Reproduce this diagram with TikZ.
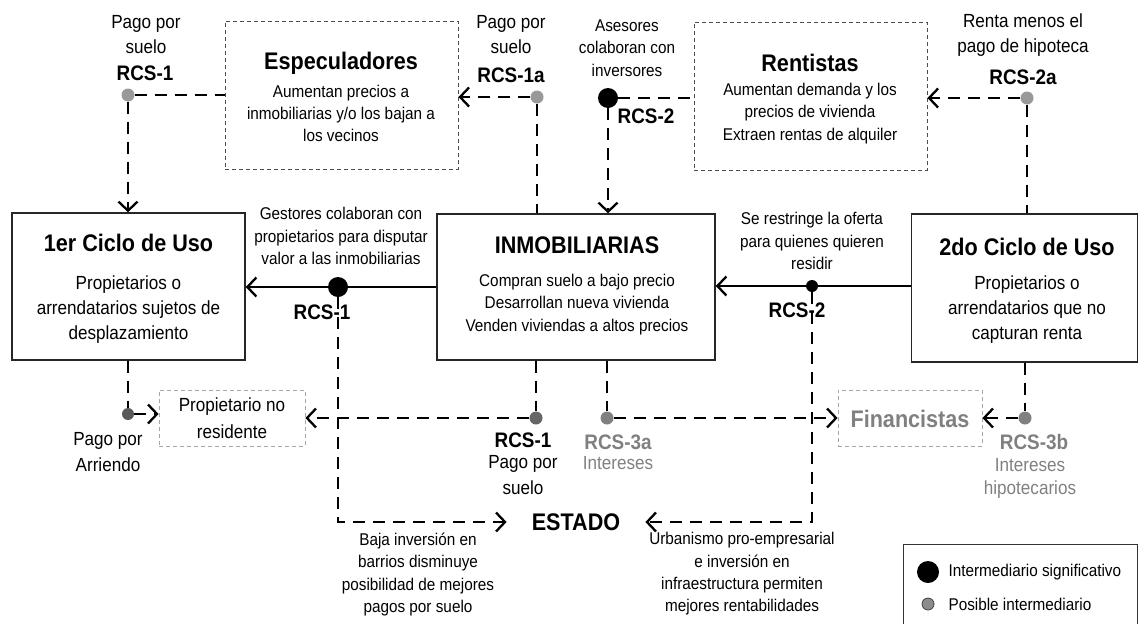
\documentclass[tikz,border=0pt]{standalone}
\usepackage{fontspec}
\setmainfont{Liberation Sans}[FakeStretch=0.9]
\usetikzlibrary{arrows.meta,calc}
\begin{document}
\begin{tikzpicture}[x=1pt,y=-1pt,
 tt/.style={font=\bfseries\fontsize{24}{28}\selectfont},
 bodyA/.style={font=\fontsize{19}{25}\selectfont, align=center},
 bodyB/.style={font=\fontsize{17}{22.3}\selectfont, align=center},
 rcs/.style={font=\bfseries\fontsize{21}{25}\selectfont},
 mainbox/.style={draw=black!85, line width=1.5pt, inner sep=0pt},
 specbox/.style={draw=black!70, line width=0.9pt, dash pattern=on 4pt off 3pt, inner sep=0pt},
 lightbox/.style={draw=black!35, line width=0.8pt, dash pattern=on 4pt off 3pt, inner sep=0pt},
 dline/.style={line width=2.8pt, dash pattern=on 12pt off 8pt, black},
 sline/.style={line width=2.6pt, black},
 arr/.style={-{Straight Barb[length=9pt,width=19pt,line width=2.3pt]}},
 bigdot/.style={circle, fill=black, minimum size=20pt, inner sep=0pt},
 meddot/.style={circle, fill=black, minimum size=12pt, inner sep=0pt},
 gdot/.style={circle, fill=#1, minimum size=13pt, inner sep=0pt},
 greytxt/.style={text=black!50},
]
\useasboundingbox (0,0) rectangle (1139,624);

% boxes
\node[mainbox, minimum width=233pt, minimum height=147pt] (c1) at (128.5,286.5) {};
\node[mainbox, minimum width=278pt, minimum height=146pt] (inm) at (576,287) {};
\node[mainbox, minimum width=226pt, minimum height=148pt] (c2) at (1024.5,288) {};
\node[specbox, minimum width=233pt, minimum height=148pt] (esp) at (341.5,95) {};
\node[specbox, minimum width=233pt, minimum height=148pt] (rent) at (810.5,96) {};
\node[lightbox, minimum width=146pt, minimum height=56pt] (prop) at (232,418) {};
\node[lightbox, minimum width=144pt, minimum height=56pt] (fin) at (910,418) {};

% box texts
\node[tt] (espT) at (341,63) {Especuladores};
\node[bodyB] (espB) at (341,113.5) {Aumentan precios a\\inmobiliarias y/o los bajan a\\los vecinos};
\node[tt] (rentT) at (810,63) {Rentistas};
\node[bodyB] (rentB) at (810,113.5) {Aumentan demanda y los\\precios de vivienda\\Extraen rentas de alquiler};
\node[tt] (c1T) at (128.5,243) {1er Ciclo de Uso};
\node[bodyA] (c1B) at (128.5,310) {Propietarios o\\arrendatarios sujetos de\\desplazamiento};
\node[tt] (inmT) at (577,245) {INMOBILIARIAS};
\node[bodyB] (inmB) at (577,304.5) {Compran suelo a bajo precio\\Desarrollan nueva vivienda\\Venden viviendas a altos precios};
\node[tt] (c2T) at (1027,247) {2do Ciclo de Uso};
\node[bodyA] (c2B) at (1027,310) {Propietarios o\\arrendatarios que no\\capturan renta};
\node[font=\fontsize{19}{27}\selectfont, align=center] (propT) at (232,418) {Propietario no\\residente};
\node[tt, greytxt] (finT) at (910,419) {Financistas};
\node[tt, inner xsep=25pt] (est) at (576,522) {ESTADO};

% dots
\node[gdot=black!40] (g1) at (128,95) {};
\node[gdot=black!40] (g1a) at (537,97) {};
\node[bigdot] (b2) at (608,98) {};
\node[gdot=black!40] (g2a) at (1027,98) {};
\node[bigdot] (b1) at (338,287) {};
\node[meddot] (b2m) at (812,286) {};
\node[gdot=black!65, minimum size=12pt] (gA) at (128,414) {};
\node[gdot=black!60] (g1b) at (536,418) {};
\node[gdot=black!50] (g3a) at (607,418) {};
\node[gdot=black!50] (g3b) at (1025,418) {};

% labels
\node[bodyA] (l1) at (146,34.5) {Pago por\\suelo};
\node[rcs] (r1) at (145,73) {RCS-1};
\node[bodyA] (l1a) at (511,35) {Pago por\\suelo};
\node[rcs] (r1a) at (511,75) {RCS-1a};
\node[bodyB] (l2) at (627,48) {Asesores\\colaboran con\\inversores};
\node[rcs] (r2) at (646,116) {RCS-2};
\node[bodyA] (l2a) at (1023,35) {Renta menos el\\pago de hipoteca};
\node[rcs] (r2a) at (1023,77) {RCS-2a};
\node[bodyB] (lg) at (341,236) {Gestores colaboran con\\propietarios para disputar\\valor a las inmobiliarias};
\node[rcs] (r1m) at (322,312) {RCS-1};
\node[bodyB] (ls) at (812,241) {Se restringe la oferta\\para quienes quieren\\residir};
\node[rcs] (r2m) at (797,310) {RCS-2};
\node[font=\fontsize{19}{26}\selectfont, align=center] (lA) at (108,452) {Pago por\\Arriendo};
\node[rcs] (r1b) at (523,440) {RCS-1};
\node[font=\fontsize{19}{26}\selectfont, align=center] (l1b) at (523,475) {Pago por\\suelo};
\node[rcs, greytxt] (r3a) at (618,442) {RCS-3a};
\node[bodyA, greytxt] (l3a) at (618,463) {Intereses};
\node[rcs, greytxt] (r3b) at (1034,442) {RCS-3b};
\node[font=\fontsize{19}{23.5}\selectfont, align=center, greytxt] (l3b) at (1030,478.5) {Intereses\\hipotecarios};
\node[bodyB] (lu) at (742,574) {Urbanismo pro-empresarial\\e inversión en\\infraestructura permiten\\mejores rentabilidades};
\node[bodyB] (lb) at (418,574.5) {Baja inversión en\\barrios disminuye\\posibilidad de mejores\\pagos por suelo};

% connectors top
\draw[dline] (g1) -- (esp.west |- g1);
\draw[dline, arr] (g1) -- (c1.north -| g1);
\draw[dline, arr] (g1a) -- (esp.east |- g1a);
\draw[dline] (g1a) -- (inm.north -| g1a);
\draw[dline] (b2) -- (rent.west |- b2);
\draw[dline, arr] (b2) -- (inm.north -| b2);
\draw[dline, arr] (g2a) -- (rent.east |- g2a);
\draw[dline] (g2a) -- (c2.north -| g2a);

% solid connectors
\draw[sline, arr] (inm.west |- b1) -- (c1.east |- b1);
\draw[sline, arr] (c2.west |- b2m) -- (inm.east |- b2m);

% to ESTADO
\draw[dline, arr] (b1) |- (est.west);
\draw[dline, arr] (b2m) |- (est.east);

% bottom connectors
\draw[dline] (c1.south -| gA) -- (gA);
\draw[dline, arr] (gA) -- (prop.west |- gA);
\draw[dline] (inm.south -| g1b) -- (g1b);
\draw[dline, arr] (g1b) -- (prop.east |- g1b);
\draw[dline] (inm.south -| g3a) -- (g3a);
\draw[dline, arr] (g3a) -- (fin.west |- g3a);
\draw[dline] (c2.south -| g3b) -- (g3b);
\draw[dline, arr] (g3b) -- (fin.east |- g3b);

% legend
\draw[line width=1pt, black!80] (903,624) -- (903,544) -- (1137.5,544) -- (1137.5,624);
\node[bigdot, minimum size=22pt] (lgd1) at (928,572) {};
\node[gdot=black!45, draw=black!75, line width=0.8pt, minimum size=12pt] (lgd2) at (928,604) {};
\node[font=\fontsize{17}{20}\selectfont, anchor=west] (lgt1) at (945,572) {Intermediario significativo};
\node[font=\fontsize{17}{20}\selectfont, anchor=west] (lgt2) at (945,604) {Posible intermediario};
\end{tikzpicture}
\end{document}
